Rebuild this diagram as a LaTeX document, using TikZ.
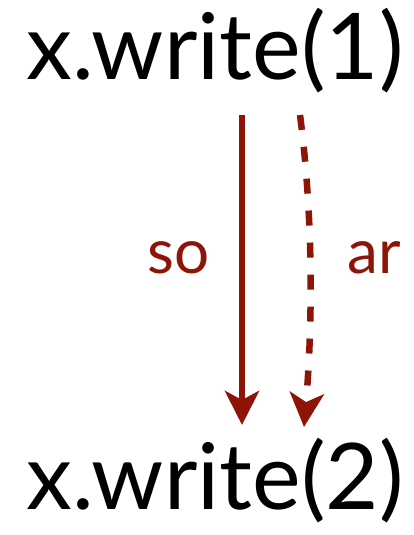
\documentclass[tikz,border=0pt]{standalone}
\usepackage{fontspec}
\setmainfont{Lato}
\usepackage{tikz}
\usetikzlibrary{arrows.meta, positioning}

\definecolor{ordred}{RGB}{142,20,8}

\begin{document}
\begin{tikzpicture}[
    x=1pt, y=1pt,
    >={Stealth[length=34pt, width=34pt, inset=9pt]},
    op/.style={font=\fontsize{92}{96}\selectfont, inner sep=0pt, anchor=base},
    rel/.style={font=\fontsize{62}{66}\selectfont, text=ordred, inner sep=0pt},
    arr/.style={->, line width=6.5pt, ordred},
    darr/.style={arr, dash pattern=on 15pt off 17pt},
]
\useasboundingbox (0,0) rectangle (414,535);

% === Operations ===
\node[op] (w1) at (215,455) {x.write(1)};
\node[op] (w2) at (215,25) {x.write(2)};

% === Orderings ===
\draw[arr] ([xshift=27pt, yshift=-35pt]w1.base) -- ([xshift=27pt, yshift=85pt]w2.base)
    node[rel, pos=0.46, left=29pt] (so) {so};
\draw[darr] ([xshift=85pt, yshift=-35pt]w1.base)
    .. controls ([xshift=98pt, yshift=-135pt]w1.base) and ([xshift=98pt, yshift=190pt]w2.base)
    .. ([xshift=89pt, yshift=83pt]w2.base);
\node[rel, right=134pt of so.east, anchor=west] (ar) {ar};

\end{tikzpicture}
\end{document}
